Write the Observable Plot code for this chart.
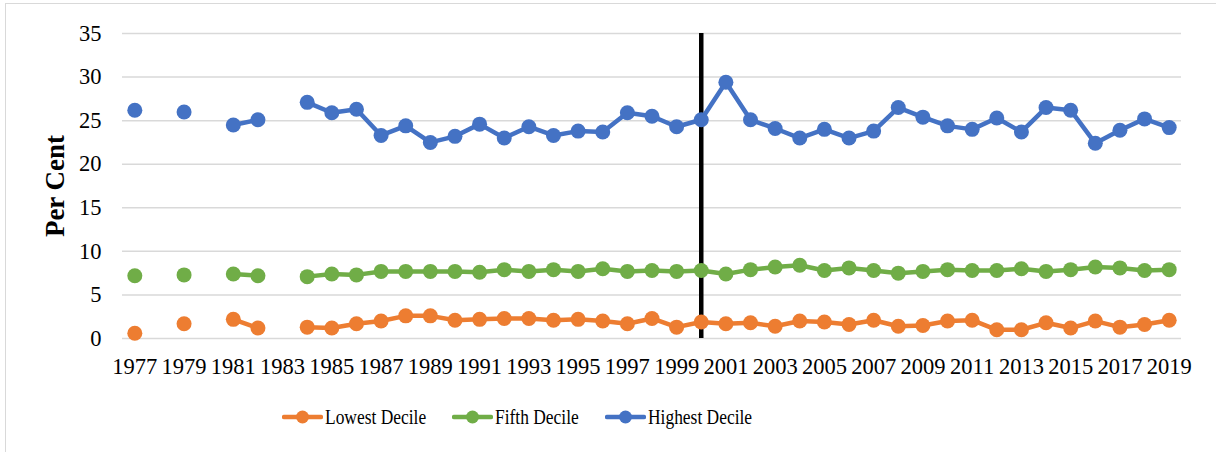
<!DOCTYPE html>
<html>
<head>
<meta charset="utf-8">
<script src="https://cdn.jsdelivr.net/npm/d3@7"></script>
<script src="https://cdn.jsdelivr.net/npm/@observablehq/plot@0.6"></script>
<style>
  body { margin: 0; background: #fff; font-family: "Liberation Serif", "Times New Roman", serif; }
  #wrap { position: relative; width: 1216px; height: 452px; overflow: hidden; background: #fff; }
  #frame { position: absolute; left: 5px; top: 3px; width: 1400px; height: 700px;
           border-left: 1.5px solid #d9d9d9; border-top: 1.5px solid #d9d9d9; }
  #chart { position: absolute; left: 0; top: 0; }
  #legend { position: absolute; left: 282px; top: 404px; height: 26px; display: flex; align-items: center; }
  .item { display: flex; align-items: center; margin-right: 26px; }
  .item svg { display: block; margin-right: 2px; }
  .item span { font-family: "Liberation Serif", serif; font-size: 21px; color: #000; display: inline-block; transform: scaleX(0.83); transform-origin: left center; white-space: nowrap; }
</style>
</head>
<body>
<div id="wrap">
  <div id="frame"></div>
  <div id="chart"></div>
  <div id="legend"></div>
</div>
<script>
// ---- data ----
const years = [1977,1978,1979,1980,1981,1982,1983,1984,1985,1986,1987,1988,1989,1990,1991,1992,1993,1994,1995,1996,1997,1998,1999,2000,2001,2002,2003,2004,2005,2006,2007,2008,2009,2010,2011,2012,2013,2014,2015,2016,2017,2018,2019];
const lowestDecile  = [0.6,null,1.7,null,2.2,1.2,null,1.3,1.2,1.7,2.0,2.6,2.6,2.1,2.2,2.3,2.3,2.1,2.2,2.0,1.7,2.3,1.3,1.9,1.7,1.8,1.4,2.0,1.9,1.6,2.1,1.4,1.5,2.0,2.1,1.0,1.0,1.8,1.2,2.0,1.3,1.6,2.1];
const fifthDecile   = [7.2,null,7.3,null,7.4,7.2,null,7.1,7.4,7.3,7.7,7.7,7.7,7.7,7.6,7.9,7.7,7.9,7.7,8.0,7.7,7.8,7.7,7.8,7.4,7.9,8.2,8.4,7.8,8.1,7.8,7.5,7.7,7.9,7.8,7.8,8.0,7.7,7.9,8.2,8.1,7.8,7.9];
const highestDecile = [26.2,null,26.0,null,24.5,25.1,null,27.1,25.9,26.3,23.3,24.4,22.5,23.2,24.6,23.0,24.3,23.3,23.8,23.7,25.9,25.5,24.3,25.1,29.4,25.1,24.1,23.0,24.0,23.0,23.8,26.5,25.4,24.4,24.0,25.3,23.7,26.5,26.2,22.4,23.9,25.2,24.2];
const seriesNames = ["Lowest Decile", "Fifth Decile", "Highest Decile"];
const seriesColors = ["#ED7D31", "#70AD47", "#4472C4"];
const yTicks = [0, 5, 10, 15, 20, 25, 30, 35];
const xTickLabels = [1977,1979,1981,1983,1985,1987,1989,1991,1993,1995,1997,1999,2001,2003,2005,2007,2009,2011,2013,2015,2017,2019];
const breakYear = 2000;
const yLabel = "Per Cent";

// ---- table ----
const seriesValues = [lowestDecile, fifthDecile, highestDecile];
const rows = [];
seriesNames.forEach((name, i) => {
  years.forEach((yr, j) => rows.push({ year: yr, series: name, value: seriesValues[i][j] }));
});

// category axis: each year occupies one slot, points at slot centres
const xDomain = [years[0] - 0.5, years[years.length - 1] + 0.5];

const plot = Plot.plot({
  width: 1216,
  height: 390,
  marginLeft: 122,
  marginRight: 35,
  marginTop: 33,
  marginBottom: 52,
  style: { fontFamily: "'Liberation Serif', 'Times New Roman', serif", fontSize: "22px", color: "#000", background: "transparent", overflow: "visible" },
  x: { type: "linear", domain: xDomain },
  y: { domain: [0, 35] },
  color: { domain: seriesNames, range: seriesColors },
  marks: [
    Plot.gridY(yTicks, { stroke: "#d9d9d9", strokeOpacity: 1, strokeWidth: 1.5 }),
    Plot.axisY(yTicks, { tickSize: 0, tickPadding: 21, fontSize: 22.5, label: yLabel, labelAnchor: "center", labelOffset: 78, labelArrow: "none" }),
    Plot.axisX(xTickLabels, { tickSize: 0, tickPadding: 20, fontSize: 22.5, tickFormat: d => String(d), label: null }),
    Plot.ruleX([breakYear], { y1: 0, y2: 35, stroke: "#000", strokeWidth: 4.5 }),
    Plot.lineY(rows, { x: "year", y: "value", z: "series", stroke: "series", strokeWidth: 4.5, strokeLinejoin: "round", strokeLinecap: "round" }),
    Plot.dot(rows, { x: "year", y: "value", fill: "series", r: 7.5 })
  ]
});
document.getElementById("chart").appendChild(plot);

// bold, larger y-axis label
plot.querySelectorAll('g[aria-label="y-axis label"]').forEach(g => {
  g.setAttribute("font-weight", "bold");
  g.setAttribute("font-size", "27");
  g.querySelectorAll("text").forEach(t => { t.setAttribute("font-weight", "bold"); t.setAttribute("font-size", "27"); });
});

// ---- legend ----
const legend = document.getElementById("legend");
seriesNames.forEach((name, i) => {
  const item = document.createElement("div");
  item.className = "item";
  item.innerHTML = `<svg width="41" height="16"><line x1="2" y1="8" x2="39" y2="8" stroke="${seriesColors[i]}" stroke-width="4.5" stroke-linecap="round"/><circle cx="20.5" cy="8" r="6.5" fill="${seriesColors[i]}"/></svg><span>${name}</span>`;
  legend.appendChild(item);
});
legend.querySelectorAll(".item span").forEach(s => {
  const w = s.getBoundingClientRect().width;
  s.style.marginRight = (-(s.offsetWidth - w)) + "px";
});
</script>
</body>
</html>
